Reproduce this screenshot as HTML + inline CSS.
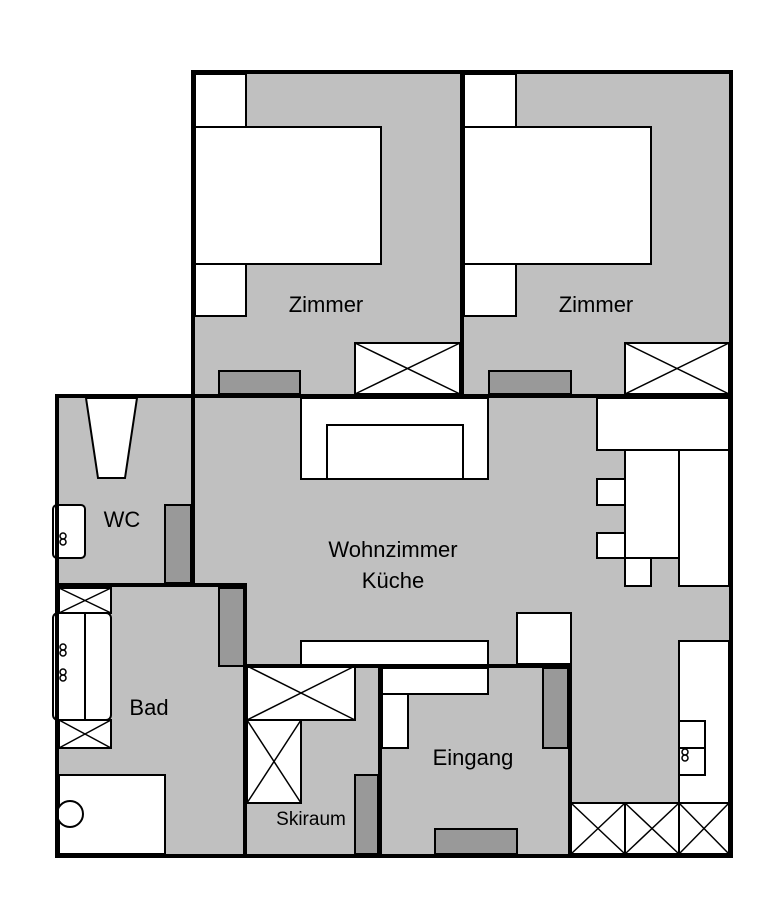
<!DOCTYPE html>
<html><head><meta charset="utf-8"><style>
html,body{margin:0;padding:0;background:#fff;}
svg{display:block;}
text{font-family:"Liberation Sans",sans-serif;fill:#000;}
</style></head><body>
<svg width="778" height="914" viewBox="0 0 778 914" xmlns="http://www.w3.org/2000/svg">
<!-- floor -->
<g fill="#c0c0c0">
<rect x="193" y="72" width="538" height="324"/>
<rect x="57" y="396" width="674" height="460"/>
</g>
<g stroke="#000" stroke-width="2" fill="#fff">
<!-- Zimmer 1 -->
<rect x="195" y="74" width="51" height="53"/>
<rect x="195" y="127" width="186" height="137"/>
<rect x="195" y="264" width="51" height="52"/>
<rect x="355" y="343" width="105" height="51"/>
<rect x="219" y="371" width="81" height="23" fill="#999"/>
<!-- Zimmer 2 -->
<rect x="464" y="74" width="52" height="53"/>
<rect x="464" y="127" width="187" height="137"/>
<rect x="464" y="264" width="52" height="52"/>
<rect x="625" y="343" width="104" height="51"/>
<rect x="489" y="371" width="82" height="23" fill="#999"/>
<!-- WC -->
<polygon points="86,398 137,398 125,478 98,478"/>
<rect x="53" y="505" width="32" height="53" rx="4"/>
<rect x="165" y="505" width="26" height="78" fill="#999"/>
<!-- Bad -->
<rect x="59" y="588" width="52" height="25"/>
<rect x="53" y="613" width="58" height="107" rx="5"/>
<line x1="85" y1="613" x2="85" y2="720"/>
<rect x="59" y="720" width="52" height="28"/>
<rect x="59" y="775" width="106" height="79"/>
<circle cx="70" cy="814" r="13"/>
<rect x="219" y="588" width="26" height="78" fill="#999"/>
<!-- Wohnzimmer -->
<rect x="301" y="398" width="187" height="81"/>
<rect x="327" y="425" width="136" height="54"/>
<rect x="597" y="398" width="132" height="52"/>
<rect x="625" y="450" width="54" height="108"/>
<rect x="679" y="450" width="50" height="136"/>
<rect x="597" y="479" width="28" height="26"/>
<rect x="597" y="533" width="28" height="25"/>
<rect x="625" y="558" width="26" height="28"/>
<rect x="301" y="641" width="187" height="25"/>
<rect x="517" y="613" width="54" height="51"/>
<rect x="679" y="641" width="50" height="162"/>
<rect x="679" y="721" width="26" height="27"/>
<rect x="679" y="748" width="26" height="27"/>
<rect x="571" y="803" width="54" height="51"/>
<rect x="625" y="803" width="54" height="51"/>
<rect x="679" y="803" width="50" height="51"/>
<!-- Skiraum -->
<rect x="247" y="666" width="108" height="54"/>
<rect x="247" y="720" width="54" height="83"/>
<rect x="355" y="775" width="23" height="79" fill="#999"/>
<!-- Eingang -->
<rect x="382" y="668" width="106" height="26"/>
<rect x="382" y="694" width="26" height="54"/>
<rect x="543" y="668" width="25" height="80" fill="#999"/>
<rect x="435" y="829" width="82" height="25" fill="#999"/>
</g>
<!-- crosses -->
<g stroke="#000" stroke-width="1.5" fill="none">
<path d="M355 343L460 394M460 343L355 394"/>
<path d="M625 343L729 394M729 343L625 394"/>
<path d="M59 588L111 613M111 588L59 613"/>
<path d="M59 720L111 748M111 720L59 748"/>
<path d="M571 803L625 854M625 803L571 854"/>
<path d="M625 803L679 854M679 803L625 854"/>
<path d="M679 803L729 854M729 803L679 854"/>
<path d="M247 666L355 720M355 666L247 720"/>
<path d="M247 720L301 803M301 720L247 803"/>
<circle cx="63" cy="536" r="3"/><circle cx="63" cy="542" r="3"/>
<circle cx="63" cy="647" r="3"/><circle cx="63" cy="653" r="3"/>
<circle cx="63" cy="672" r="3"/><circle cx="63" cy="678" r="3"/>
<circle cx="685" cy="752" r="3"/><circle cx="685" cy="758" r="3"/>
</g>
<!-- walls -->
<g stroke="#000" stroke-width="4" fill="none" stroke-linecap="square">
<path d="M193 72H731V856H57V396H193V72"/>
<line x1="193" y1="396" x2="193" y2="585"/>
<line x1="462" y1="72" x2="462" y2="396"/>
<line x1="57" y1="396" x2="731" y2="396"/>
<line x1="57" y1="585" x2="245" y2="585"/>
<line x1="245" y1="585" x2="245" y2="856"/>
<line x1="245" y1="666" x2="570" y2="666"/>
<line x1="380" y1="666" x2="380" y2="856"/>
<line x1="570" y1="666" x2="570" y2="856"/>
</g>
<g font-size="22" text-anchor="middle">
<text x="326" y="312">Zimmer</text>
<text x="596" y="312">Zimmer</text>
<text x="122" y="527">WC</text>
<text x="393" y="557">Wohnzimmer</text>
<text x="393" y="588">Küche</text>
<text x="149" y="715">Bad</text>
<text x="473" y="765">Eingang</text>
<text x="311" y="825" font-size="19">Skiraum</text>
</g>
</svg>
</body></html>
